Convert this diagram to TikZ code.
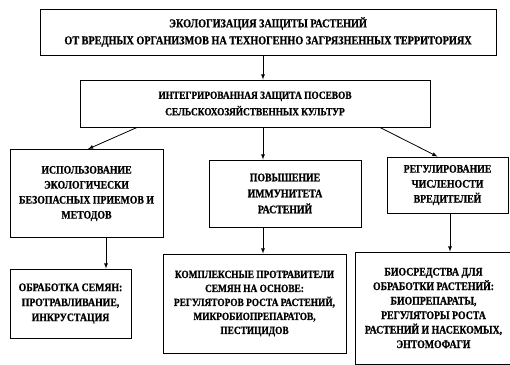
\documentclass[tikz,border=0pt]{standalone}
\usepackage{fontspec}
\setmainfont{Liberation Serif}[FakeStretch=0.85,BoldFeatures={FakeBold=0.8}]
\usetikzlibrary{arrows,calc}

\begin{document}
\begin{tikzpicture}[x=1pt,y=-1pt,
    blk/.style={draw,line width=0.9pt,align=center,inner sep=2pt,
      font=\bfseries\fontsize{11.5}{14.5}\selectfont},
    big/.style={blk,font=\bfseries\fontsize{11}{16.5}\selectfont},
    arr/.style={->,>=latex,line width=0.8pt}]
\useasboundingbox (0,0) rectangle (510,364);
% guide lines for the vertical arrows
\coordinate (xm) at (263,0);
\coordinate (xl) at (106,0);
\coordinate (xr) at (450,0);
\node[big,minimum width=456,minimum height=46,font=\bfseries\fontsize{12}{17}\selectfont] (eco) at (268,32)
  {ЭКОЛОГИЗАЦИЯ ЗАЩИТЫ РАСТЕНИЙ\\ОТ ВРЕДНЫХ ОРГАНИЗМОВ НА ТЕХНОГЕННО ЗАГРЯЗНЕННЫХ ТЕРРИТОРИЯХ};
\node[big,minimum width=350,minimum height=47] (integ) at (255,103.5)
  {ИНТЕГРИРОВАННАЯ ЗАЩИТА ПОСЕВОВ\\СЕЛЬСКОХОЗЯЙСТВЕННЫХ КУЛЬТУР};
\node[blk,minimum width=153,minimum height=88,font=\bfseries\fontsize{11.5}{15}\selectfont] (ispol) at (86.5,193.5)
  {ИСПОЛЬЗОВАНИЕ\\ЭКОЛОГИЧЕСКИ\\БЕЗОПАСНЫХ ПРИЕМОВ И\\МЕТОДОВ};
\node[blk,minimum width=152,minimum height=67,font=\bfseries\fontsize{11.5}{16}\selectfont] (immun) at (285,193.5)
  {ПОВЫШЕНИЕ\\ИММУНИТЕТА\\РАСТЕНИЙ};
\node[blk,minimum width=121,minimum height=56,font=\bfseries\fontsize{11.5}{15}\selectfont] (regul) at (447.5,185)
  {РЕГУЛИРОВАНИЕ\\ЧИСЛЕНОСТИ\\ВРЕДИТЕЛЕЙ};
\node[blk,minimum width=121,minimum height=69,font=\bfseries\fontsize{11.5}{15}\selectfont] (semena) at (70.5,303.5)
  {ОБРАБОТКА СЕМЯН:\\ПРОТРАВЛИВАНИЕ,\\ИНКРУСТАЦИЯ};
\node[blk,minimum width=183,minimum height=99,font=\bfseries\fontsize{11}{14}\selectfont] (protr) at (254.5,303.5)
  {КОМПЛЕКСНЫЕ ПРОТРАВИТЕЛИ\\СЕМЯН НА ОСНОВЕ:\\РЕГУЛЯТОРОВ РОСТА РАСТЕНИЙ,\\МИКРОБИОПРЕПАРАТОВ,\\ПЕСТИЦИДОВ};
\node[blk,minimum width=157,minimum height=112] (bio) at (433.5,308)
  {БИОСРЕДСТВА ДЛЯ\\ОБРАБОТКИ РАСТЕНИЙ:\\БИОПРЕПАРАТЫ,\\РЕГУЛЯТОРЫ РОСТА\\РАСТЕНИЙ И НАСЕКОМЫХ,\\ЭНТОМОФАГИ};
% connectors
\draw[arr] (eco.south -| xm) -- (integ.north -| xm);
\draw[arr] ($(integ.south)+(-118,0)$) -- ($(ispol.north)+(1.5,0)$);
\draw[arr] (integ.south -| xm) -- (immun.north -| xm);
\draw[arr] ($(integ.south)+(125,0)$) -- ($(regul.north)+(-10,0)$);
\draw[arr] (ispol.south -| xl) -- (semena.north -| xl);
\draw[arr] (immun.south -| xm) -- (protr.north -| xm);
\draw[arr] (regul.south -| xr) -- (bio.north -| xr);
\end{tikzpicture}
\end{document}
